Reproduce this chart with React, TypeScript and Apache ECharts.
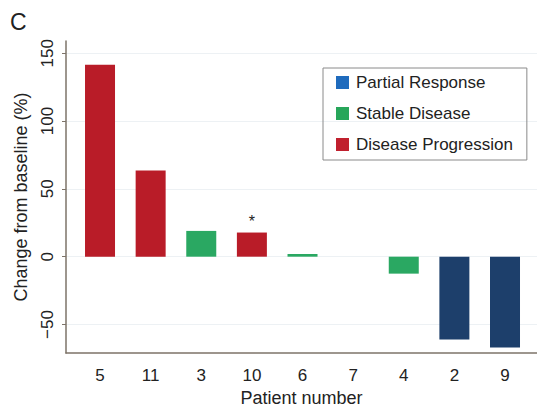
import React, { useEffect, useRef } from "react";
import * as echarts from "echarts";

const patients = ["5", "11", "3", "10", "6", "7", "4", "2", "9"];
const changes = [141.5, 63.5, 19, 17.8, 2, 0, -12.5, -61, -67];
const responses = [
  "Disease Progression",
  "Disease Progression",
  "Stable Disease",
  "Disease Progression",
  "Stable Disease",
  "Stable Disease",
  "Stable Disease",
  "Partial Response",
  "Partial Response",
];
const starred = ["10"];
const categories = ["Partial Response", "Stable Disease", "Disease Progression"];
const barColors = ["#1d3f6b", "#2aa862", "#b91c28"];
const legendColors = ["#1f6bbd", "#27a65a", "#c0202e"];
const yTicks = [-50, 0, 50, 100, 150];

const FONT = "Liberation Sans, Arial, Helvetica, sans-serif";

export default function App() {
  const ref = useRef<HTMLDivElement>(null);
  useEffect(() => {
    document.body.style.margin = "0";
    const chart = echarts.init(ref.current!, undefined, { renderer: "svg" });
    const series = categories.map((name, ci) => ({
      name,
      type: "bar",
      barWidth: 30,
      barGap: "-100%",
      itemStyle: { color: barColors[ci] },
      data: patients
        .map((p, i) =>
          responses[i] === name
            ? {
                value: [i, changes[i]],
                label: starred.includes(p)
                  ? {
                      show: true,
                      position: "top",
                      distance: 3,
                      formatter: "*",
                      fontSize: 16,
                      color: "#222",
                      fontFamily: FONT,
                    }
                  : { show: false },
              }
            : null
        )
        .filter((d) => d !== null),
    }));
    chart.setOption({
      animation: false,
      textStyle: { fontFamily: FONT },
      graphic: [
        {
          type: "text",
          left: 10,
          top: 10,
          style: { text: "C", fontSize: 23, fill: "#222", fontFamily: FONT },
        },
      ],
      legend: {
        orient: "vertical",
        left: 323,
        top: 68,
        padding: [6, 14, 7, 13],
        itemWidth: 13,
        itemHeight: 13,
        itemGap: 14,
        borderColor: "#8a8a8a",
        borderWidth: 1,
        icon: "rect",
        textStyle: { fontSize: 17, color: "#222", fontFamily: FONT, padding: [0, 0, 0, 2] },
        data: categories.map((name, i) => ({
          name,
          itemStyle: { color: legendColors[i] },
        })),
      },
      grid: { left: 66, right: 0, top: 41, bottom: 56 },
      xAxis: {
        type: "value",
        min: -0.672,
        max: 8.632,
        name: "Patient number",
        nameLocation: "middle",
        nameGap: 36,
        nameTextStyle: { fontSize: 18, color: "#222", fontFamily: FONT },
        axisLine: { show: true, onZero: false, lineStyle: { color: "#7d7368", width: 1.5 } },
        axisTick: { show: false, customValues: patients.map((_, i) => i) },
        axisLabel: {
          customValues: patients.map((_, i) => i),
          formatter: (v: number) => patients[Math.round(v)],
          fontSize: 17,
          color: "#222",
          margin: 14,
          fontFamily: FONT,
        },
        splitLine: { show: false },
      },
      yAxis: {
        type: "value",
        min: -71,
        max: 159,
        name: "Change from baseline (%)",
        nameLocation: "middle",
        nameGap: 36,
        nameTextStyle: { fontSize: 18, color: "#222", fontFamily: FONT },
        axisLine: { show: true, onZero: false, lineStyle: { color: "#7d7368", width: 1.5 } },
        axisTick: {
          show: true,
          length: 4,
          customValues: yTicks,
          lineStyle: { color: "#7d7368" },
        },
        axisLabel: {
          customValues: yTicks,
          rotate: 90,
          fontSize: 17,
          color: "#222",
          margin: 10,
          fontFamily: FONT,
          formatter: (v: number) => String(v).replace("-", "\u2212"),
        },
        splitLine: { show: true, lineStyle: { color: "#edf1f4", width: 1 } },
      },
      series,
    });
    return () => chart.dispose();
  }, []);
  return <div ref={ref} style={{ width: 537, height: 412 }} />;
}
